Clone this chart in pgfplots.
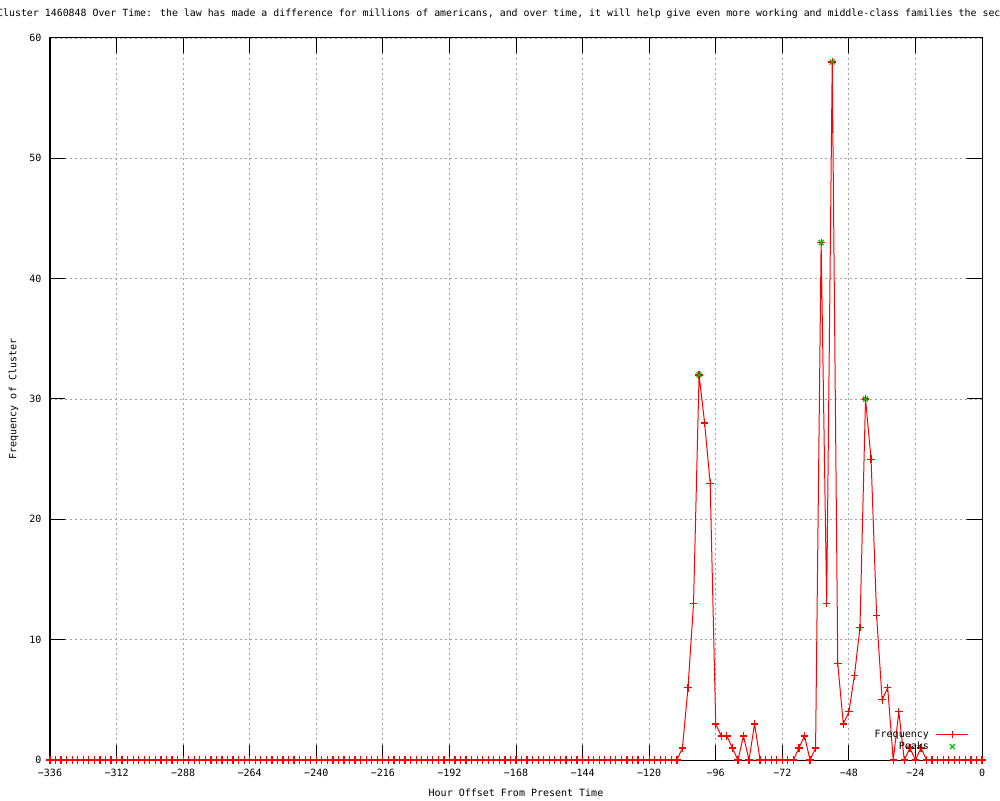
\documentclass[border=0pt]{standalone}
\usepackage{fontspec}
\setmainfont{DejaVu Sans Mono}
\usepackage{pgfplots}
\pgfplotsset{compat=1.18}
\definecolor{gpred}{RGB}{255,0,0}
\definecolor{gpgreen}{RGB}{0,192,0}
\definecolor{gpgrid}{RGB}{160,160,160}
\pgfplotsset{
  freqlegend/.style={legend image code/.code={\draw[##1, mark repeat=2, mark phase=2] plot coordinates {(0pt,0pt) (16pt,0pt) (32pt,0pt)};}},
  peaklegend/.style={legend image code/.code={\draw[##1] plot coordinates {(16pt,0pt)};}},
}
\begin{document}
\begin{tikzpicture}
\useasboundingbox (0,0) rectangle (1000pt,800pt);
\begin{axis}[
  at={(50pt,40pt)}, anchor=south west,
  scale only axis, width=932pt, height=722pt,
  xmin=-336, xmax=0, ymin=0, ymax=60,
  xtick={-336,-312,...,0},
  xticklabels={−336,−312,−288,−264,−240,−216,−192,−168,−144,−120,−96,−72,−48,−24,0},
  ytick={0,10,...,60},
  tick align=inside, major tick length=15pt,
  tick style={black, line width=1pt},
  axis line style={black, line width=1pt},
  grid=major,
  major grid style={gpgrid, dash pattern=on 2pt off 3pt, line width=0.8pt},
  /pgf/number format/assume math mode=true,
  xticklabel style={yshift=-6pt},
  yticklabel style={xshift=-5pt},
  xlabel={Hour Offset From Present Time},
  xlabel style={at={(axis description cs:0.5,-0.0457)}, anchor=center},
  ylabel={Frequency of Cluster},
  ylabel style={at={(axis description cs:-0.039,0.5)}, anchor=center},
  title={Cluster 1460848 Over Time: the law has made a difference for millions of americans, and over time, it will help give even more working and middle-class families the security},
  title style={at={(axis description cs:0,1.0249)}, anchor=west, inner sep=0pt, xshift=-53pt,
    font=\fontsize{9.9pt}{12pt}\selectfont},
  clip=false,
  legend plot pos=right,
  legend cell align=right,
  legend style={draw=none, fill=none, inner sep=0pt, at={(0.9861,0.0429)}, anchor=north east,
    nodes={inner sep=1pt}, /tikz/column sep=6pt, row sep=1pt},
]
\addplot[color=gpred, line width=1pt, mark=+, mark size=3.75pt,
  mark options={draw=gpred, solid, line width=1.25pt}, freqlegend]
coordinates {
(-336,0)(-334,0)(-332,0)(-330,0)(-328,0)(-326,0)(-324,0)(-322,0)(-320,0)(-318,0)
(-316,0)(-314,0)(-312,0)(-310,0)(-308,0)(-306,0)(-304,0)(-302,0)(-300,0)(-298,0)
(-296,0)(-294,0)(-292,0)(-290,0)(-288,0)(-286,0)(-284,0)(-282,0)(-280,0)(-278,0)
(-276,0)(-274,0)(-272,0)(-270,0)(-268,0)(-266,0)(-264,0)(-262,0)(-260,0)(-258,0)
(-256,0)(-254,0)(-252,0)(-250,0)(-248,0)(-246,0)(-244,0)(-242,0)(-240,0)(-238,0)
(-236,0)(-234,0)(-232,0)(-230,0)(-228,0)(-226,0)(-224,0)(-222,0)(-220,0)(-218,0)
(-216,0)(-214,0)(-212,0)(-210,0)(-208,0)(-206,0)(-204,0)(-202,0)(-200,0)(-198,0)
(-196,0)(-194,0)(-192,0)(-190,0)(-188,0)(-186,0)(-184,0)(-182,0)(-180,0)(-178,0)
(-176,0)(-174,0)(-172,0)(-170,0)(-168,0)(-166,0)(-164,0)(-162,0)(-160,0)(-158,0)
(-156,0)(-154,0)(-152,0)(-150,0)(-148,0)(-146,0)(-144,0)(-142,0)(-140,0)(-138,0)
(-136,0)(-134,0)(-132,0)(-130,0)(-128,0)(-126,0)(-124,0)(-122,0)(-120,0)(-118,0)
(-116,0)(-114,0)(-112,0)(-110,0)(-108,1)(-106,6)(-104,13)(-102,32)(-100,28)(-98,23)
(-96,3)(-94,2)(-92,2)(-90,1)(-88,0)(-86,2)(-84,0)(-82,3)(-80,0)(-78,0)
(-76,0)(-74,0)(-72,0)(-70,0)(-68,0)(-66,1)(-64,2)(-62,0)(-60,1)(-58,43)
(-56,13)(-54,58)(-52,8)(-50,3)(-48,4)(-46,7)(-44,11)(-42,30)(-40,25)(-38,12)
(-36,5)(-34,6)(-32,0)(-30,4)(-28,0)(-26,1)(-24,0)(-22,1)(-20,0)(-18,0)
(-16,0)(-14,0)(-12,0)(-10,0)(-8,0)(-6,0)(-4,0)(-2,0)(0,0)
};
\addlegendentry{Frequency}
\addplot[only marks, color=gpgreen, mark=x, mark size=3.5pt,
  mark options={draw=gpgreen, solid, line width=1.25pt}, peaklegend]
coordinates {(-102,32)(-58,43)(-54,58)(-42,30)};
\addlegendentry{Peaks}
\end{axis}
\end{tikzpicture}
\end{document}
